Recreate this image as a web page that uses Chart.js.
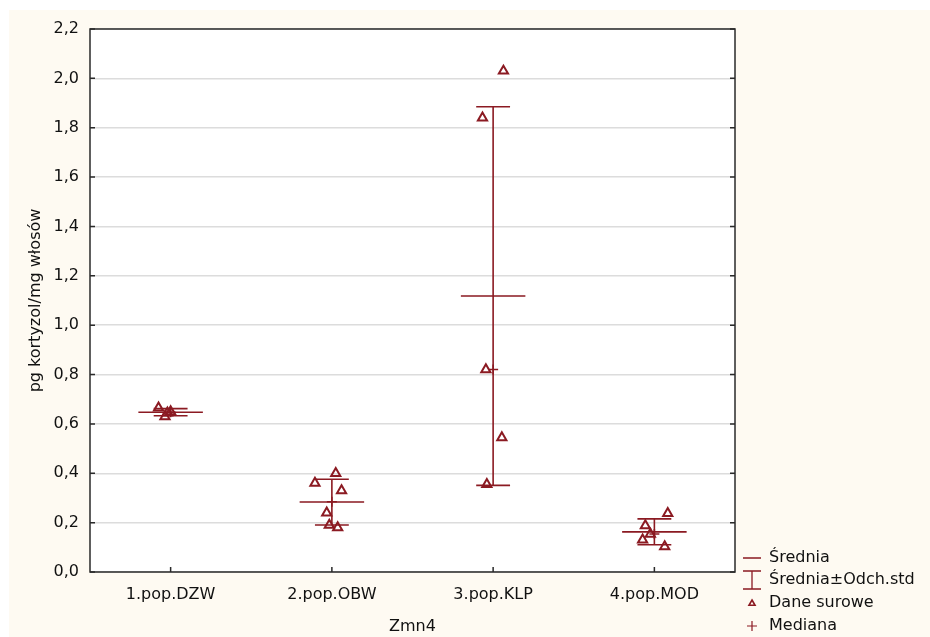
<!DOCTYPE html>
<html>
<head>
<meta charset="utf-8">
<script src="https://cdn.jsdelivr.net/npm/chart.js@4"></script>
<style>
  html, body { margin: 0; padding: 0; background: #fff; }
  #wrap { width: 930px; height: 637px; }
</style>
</head>
<body>
<div id="wrap"><canvas id="chart" width="930" height="637"></canvas></div>
<script>
const categories = ['1.pop.DZW', '2.pop.OBW', '3.pop.KLP', '4.pop.MOD'];
const yTickLabels = ['0,0', '0,2', '0,4', '0,6', '0,8', '1,0', '1,2', '1,4', '1,6', '1,8', '2,0', '2,2'];

// raw values per group (pg kortyzol/mg włosów)
const dzw = [0.665, 0.63, 0.645, 0.65];
const obw = [0.40, 0.36, 0.33, 0.24, 0.19, 0.18];
const klp = [2.03, 1.84, 0.82, 0.545, 0.355];
const mod = [0.238, 0.188, 0.154, 0.13, 0.103];

// sideways spread of the raw points inside a category, as in the original
const dzwSpread = [-0.075, -0.035, -0.02, 0.0];
const obwSpread = [0.024, -0.105, 0.06, -0.032, -0.016, 0.036];
const klpSpread = [0.064, -0.066, -0.045, 0.054, -0.039];
const modSpread = [0.083, -0.056, -0.025, -0.073, 0.064];

const legendLabels = ['Średnia', 'Średnia±Odch.std', 'Dane surowe', 'Mediana'];

const groups = [dzw, obw, klp, mod];
const spreads = [dzwSpread, obwSpread, klpSpread, modSpread];

const RED = '#8b1a22';
const FONT = '"DejaVu Sans", "Liberation Sans", sans-serif';

function mean(a) { return a.reduce((s, v) => s + v, 0) / a.length; }
function sd(a) {
    const m = mean(a);
    return Math.sqrt(a.reduce((s, v) => s + (v - m) * (v - m), 0) / (a.length - 1));
}
function median(a) {
    const s = [...a].sort((p, q) => p - q);
    const h = Math.floor(s.length / 2);
    return s.length % 2 ? s[h] : (s[h - 1] + s[h]) / 2;
}

const rawPoints = [];
groups.forEach((g, i) => {
    g.forEach((v, j) => rawPoints.push({ x: i + 1 + spreads[i][j], y: v }));
});
const medianPoints = groups.map((g, i) => ({ x: i + 1, y: median(g) }));

const backgroundPlugin = {
    id: 'background',
    beforeDraw(chart) {
        const { ctx, chartArea } = chart;
        ctx.save();
        ctx.fillStyle = '#ffffff';
        ctx.fillRect(0, 0, chart.width, chart.height);
        ctx.fillStyle = '#fefaf2';
        ctx.fillRect(9, 10, chart.width - 9, chart.height - 10);
        ctx.fillStyle = '#ffffff';
        ctx.fillRect(chartArea.left, chartArea.top, chartArea.right - chartArea.left, chartArea.bottom - chartArea.top);
        ctx.restore();
    }
};

// mean line and mean ± sd whisker for each group
const statsPlugin = {
    id: 'stats',
    beforeDatasetsDraw(chart) {
        const { ctx } = chart;
        const xs = chart.scales.x, ys = chart.scales.y;
        ctx.save();
        ctx.strokeStyle = RED;
        ctx.lineWidth = 1.6;
        groups.forEach((g, i) => {
            const c = i + 1;
            const m = mean(g), s = sd(g);
            const cx = xs.getPixelForValue(c);
            const yM = ys.getPixelForValue(m);
            const yHi = ys.getPixelForValue(m + s);
            const yLo = ys.getPixelForValue(m - s);
            ctx.beginPath();
            ctx.moveTo(xs.getPixelForValue(c - 0.2), yM);
            ctx.lineTo(xs.getPixelForValue(c + 0.2), yM);
            ctx.moveTo(cx, yHi);
            ctx.lineTo(cx, yLo);
            ctx.moveTo(xs.getPixelForValue(c - 0.105), yHi);
            ctx.lineTo(xs.getPixelForValue(c + 0.105), yHi);
            ctx.moveTo(xs.getPixelForValue(c - 0.105), yLo);
            ctx.lineTo(xs.getPixelForValue(c + 0.105), yLo);
            ctx.stroke();
        });
        ctx.restore();
    }
};

// frame with inward ticks, and the legend at bottom right
const framePlugin = {
    id: 'frame',
    afterDraw(chart) {
        const { ctx, chartArea } = chart;
        const { left, right, top, bottom } = chartArea;
        const xs = chart.scales.x, ys = chart.scales.y;
        ctx.save();
        ctx.strokeStyle = '#2a2a2a';
        ctx.lineWidth = 1.5;
        ctx.strokeRect(left, top, right - left, bottom - top);
        ctx.beginPath();
        ys.ticks.forEach(t => {
            const y = ys.getPixelForValue(t.value);
            ctx.moveTo(left, y); ctx.lineTo(left + 5, y);
            ctx.moveTo(right, y); ctx.lineTo(right - 5, y);
        });
        xs.ticks.forEach(t => {
            const x = xs.getPixelForValue(t.value);
            ctx.moveTo(x, bottom); ctx.lineTo(x, bottom - 5);
        });
        ctx.stroke();

        const lx = 752, tx = 769;
        const rows = [558, 580, 603, 626];
        ctx.strokeStyle = RED;
        ctx.lineWidth = 1.3;
        ctx.beginPath();
        ctx.moveTo(lx - 9, rows[0]); ctx.lineTo(lx + 9, rows[0]);
        ctx.moveTo(lx, rows[1] - 9); ctx.lineTo(lx, rows[1] + 9);
        ctx.moveTo(lx - 9, rows[1] - 9); ctx.lineTo(lx + 9, rows[1] - 9);
        ctx.moveTo(lx - 9, rows[1] + 9); ctx.lineTo(lx + 9, rows[1] + 9);
        ctx.stroke();
        ctx.fillStyle = 'rgba(255,255,255,0)';
        ctx.lineWidth = 1.6;
        Chart.helpers.drawPoint(ctx, { pointStyle: 'triangle', radius: 3.5, borderWidth: 1.6 }, lx, rows[2] + 0.5);
        ctx.lineWidth = 1.2;
        Chart.helpers.drawPoint(ctx, { pointStyle: 'cross', radius: 5, borderWidth: 1.2 }, lx, rows[3]);
        ctx.fillStyle = '#111111';
        ctx.font = '16px ' + FONT;
        ctx.textBaseline = 'middle';
        ctx.textAlign = 'left';
        legendLabels.forEach((t, i) => ctx.fillText(t, tx, rows[i]));
        ctx.restore();
    }
};

Chart.defaults.font.family = FONT;
Chart.defaults.font.size = 16;
Chart.defaults.color = '#111111';

new Chart(document.getElementById('chart'), {
    type: 'scatter',
    data: {
        datasets: [
            {
                label: 'Dane surowe',
                data: rawPoints,
                pointStyle: 'triangle',
                radius: 5.3,
                borderWidth: 2,
                borderColor: RED,
                backgroundColor: 'rgba(255,255,255,0)'
            },
            {
                label: 'Mediana',
                data: medianPoints,
                pointStyle: 'cross',
                radius: 5,
                borderWidth: 1.5,
                borderColor: RED
            }
        ]
    },
    options: {
        responsive: false,
        animation: false,
        layout: { padding: { top: 29, right: 195, left: 0, bottom: 0 } },
        plugins: {
            legend: { display: false },
            tooltip: { enabled: false }
        },
        scales: {
            x: {
                type: 'linear',
                min: 0.5,
                max: 4.5,
                afterBuildTicks: s => { s.ticks = categories.map((c, i) => ({ value: i + 1 })); },
                afterFit: s => { s.height = 65; },
                ticks: {
                    autoSkip: false,
                    maxRotation: 0,
                    padding: 13,
                    callback: v => categories[Math.round(v) - 1]
                },
                grid: { display: false, drawTicks: false },
                border: { display: false },
                title: { display: true, text: 'Zmn4', padding: { top: 0, bottom: 1 } }
            },
            y: {
                min: 0,
                max: 2.2,
                afterBuildTicks: s => {
                    s.ticks = yTickLabels.map(l => ({ value: parseFloat(l.replace(',', '.')) }));
                },
                afterFit: s => { s.width = 90; },
                ticks: {
                    autoSkip: false,
                    padding: 11,
                    callback: (v, i) => yTickLabels[i]
                },
                grid: { color: '#dcdcdc', lineWidth: 1.5, drawTicks: false },
                border: { display: false },
                title: { display: true, text: 'pg kortyzol/mg włosów', padding: { top: 26, bottom: 0 } }
            }
        }
    },
    plugins: [backgroundPlugin, statsPlugin, framePlugin]
});
</script>
</body>
</html>
